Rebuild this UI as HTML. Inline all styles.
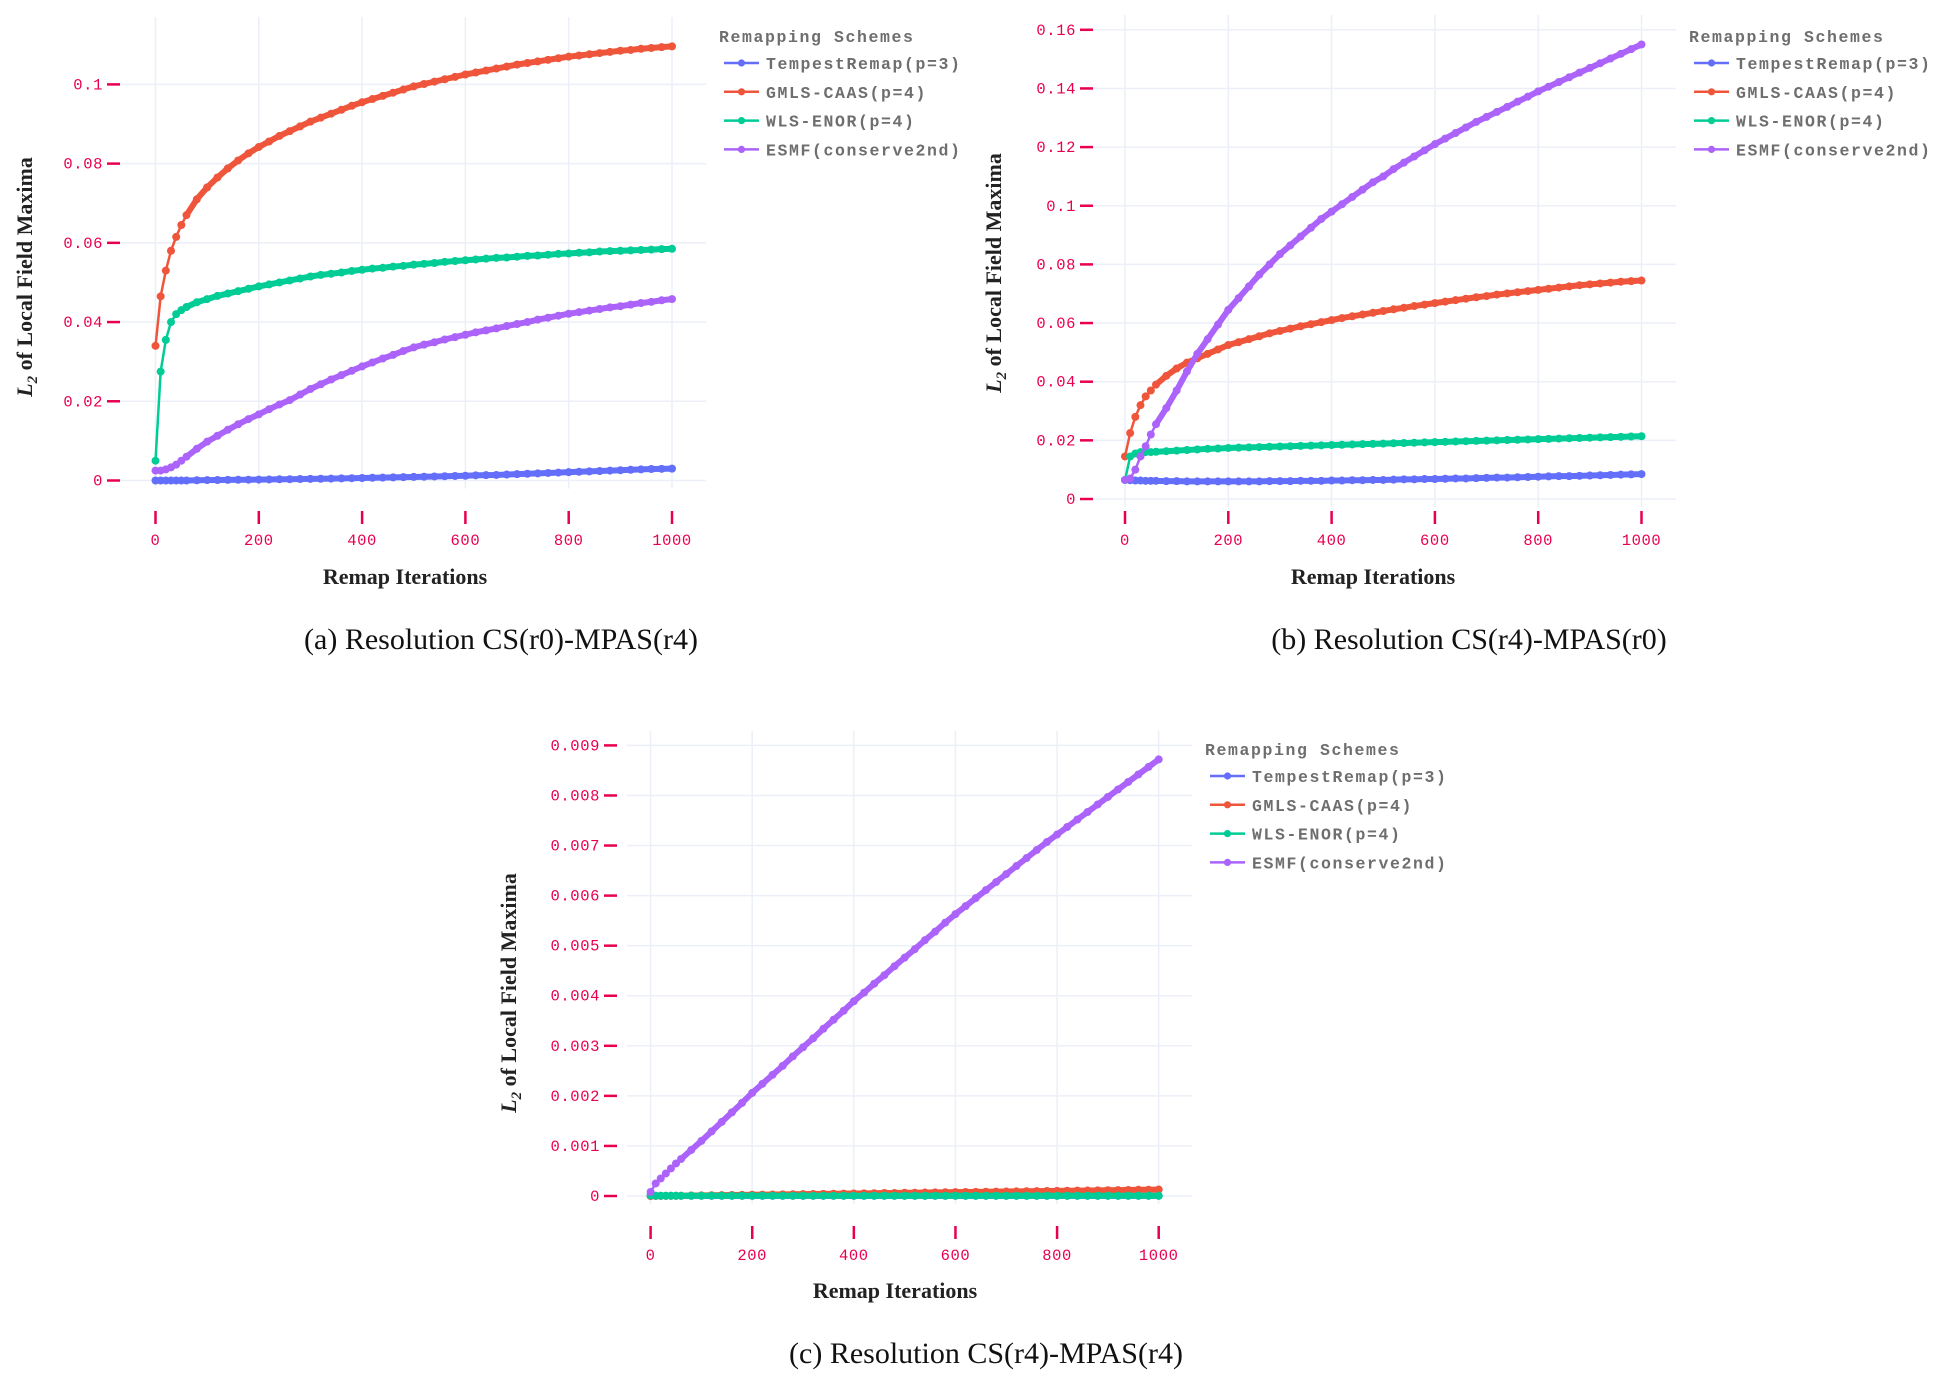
<!DOCTYPE html>
<html><head><meta charset="utf-8"><style>
html,body{margin:0;padding:0;background:#fff;}
svg{display:block;}
.tk{font-family:"Liberation Mono",monospace;font-size:15.5px;fill:#e8004f;letter-spacing:0.6px;}
.lg{font-family:"Liberation Mono",monospace;font-size:16.5px;font-weight:bold;fill:#6e6e6e;letter-spacing:1.6px;}
.ax{font-family:"Liberation Serif",serif;font-weight:bold;font-size:22px;fill:#222;}
.cap{font-family:"Liberation Serif",serif;font-size:30px;fill:#111;}
</style></head><body>
<svg id="fig" width="1947" height="1385" viewBox="0 0 1947 1385" xmlns="http://www.w3.org/2000/svg"></svg>
<script>
const iters = [0,10,20,30,40,50,60,80,100,120,140,160,180,200,220,240,260,280,300,320,340,360,380,400,420,440,460,480,500,520,540,560,580,600,620,640,660,680,700,720,740,760,780,800,820,840,860,880,900,920,940,960,980,1000];
const seriesNames = ["TempestRemap(p=3)","GMLS-CAAS(p=4)","WLS-ENOR(p=4)","ESMF(conserve2nd)"];
const xTicks = [0,200,400,600,800,1000];
const yTicksA = [0,0.02,0.04,0.06,0.08,0.1];
const yTicksB = [0,0.02,0.04,0.06,0.08,0.1,0.12,0.14,0.16];
const yTicksC = [0,0.001,0.002,0.003,0.004,0.005,0.006,0.007,0.008,0.009];
const yTickLabelsA = ["0","0.02","0.04","0.06","0.08","0.1"];
const yTickLabelsB = ["0","0.02","0.04","0.06","0.08","0.1","0.12","0.14","0.16"];
const yTickLabelsC = ["0","0.001","0.002","0.003","0.004","0.005","0.006","0.007","0.008","0.009"];

const tempestA = [0,0,0,0,0,0,0,0.00005,0.0001,0.00012,0.00015,0.00018,0.0002,0.00023,0.00026,0.0003,0.00033,0.00037,0.0004,0.00044,0.00048,0.00053,0.00058,0.00063,0.00068,0.00073,0.00079,0.00085,0.0009,0.00096,0.00102,0.00108,0.00115,0.0012,0.0013,0.00135,0.0014,0.0015,0.0016,0.0017,0.0018,0.0019,0.002,0.0021,0.0022,0.0023,0.0024,0.0025,0.0026,0.0027,0.0028,0.0029,0.00295,0.003];
const gmlsA = [0.034,0.0465,0.053,0.058,0.0615,0.0645,0.067,0.071,0.074,0.0765,0.0788,0.0808,0.0826,0.0842,0.0856,0.087,0.0882,0.0894,0.0906,0.0916,0.0926,0.0936,0.0946,0.0955,0.0963,0.0971,0.0979,0.0987,0.0995,0.1001,0.1007,0.1013,0.1019,0.1025,0.103,0.1035,0.104,0.1045,0.105,0.1054,0.1058,0.1062,0.1066,0.107,0.1073,0.1076,0.1079,0.1082,0.1085,0.1087,0.109,0.1092,0.1094,0.1096];
const wlsA = [0.005,0.0275,0.0355,0.04,0.042,0.043,0.0438,0.045,0.0458,0.0466,0.0472,0.0478,0.0484,0.049,0.0495,0.05,0.0505,0.051,0.0515,0.0519,0.0522,0.0525,0.0529,0.0532,0.0535,0.0537,0.054,0.0542,0.0545,0.0547,0.0549,0.0552,0.0554,0.0556,0.0558,0.056,0.0562,0.0563,0.0565,0.0567,0.0568,0.057,0.0572,0.0573,0.0575,0.0576,0.0578,0.0579,0.058,0.0581,0.0582,0.0583,0.0584,0.0585];
const esmfA = [0.0025,0.0025,0.0028,0.0033,0.004,0.005,0.006,0.008,0.0098,0.0113,0.0128,0.0142,0.0155,0.0167,0.018,0.0192,0.0203,0.0217,0.0231,0.0243,0.0255,0.0266,0.0277,0.0288,0.0298,0.0308,0.0317,0.0327,0.0336,0.0343,0.0349,0.0356,0.0362,0.0368,0.0374,0.0379,0.0384,0.039,0.0395,0.04,0.0406,0.0411,0.0416,0.0421,0.0425,0.0429,0.0433,0.0437,0.044,0.0444,0.0448,0.0451,0.0455,0.0458];

const tempestB = [0.0065,0.0064,0.0063,0.0063,0.0062,0.0062,0.0062,0.0061,0.0061,0.006,0.006,0.006,0.006,0.006,0.006,0.006,0.006,0.0061,0.0061,0.0061,0.0062,0.0062,0.0062,0.0063,0.0063,0.0064,0.0064,0.0065,0.0065,0.0066,0.0067,0.0067,0.0068,0.0068,0.0069,0.007,0.007,0.0071,0.0072,0.0073,0.0073,0.0074,0.0075,0.0076,0.0077,0.0078,0.0078,0.0079,0.008,0.0081,0.0082,0.0083,0.0084,0.0085];
const gmlsB = [0.0145,0.0225,0.028,0.032,0.035,0.037,0.039,0.042,0.0445,0.0465,0.048,0.0495,0.051,0.0525,0.0535,0.0545,0.0555,0.0565,0.0573,0.0581,0.0589,0.0596,0.0603,0.061,0.0617,0.0623,0.0629,0.0635,0.0641,0.0647,0.0652,0.0658,0.0663,0.0668,0.0673,0.0678,0.0683,0.0688,0.0692,0.0697,0.0701,0.0705,0.0709,0.0713,0.0717,0.0721,0.0725,0.0729,0.0732,0.0735,0.0738,0.0741,0.0743,0.0745];
const wlsB = [0.0065,0.0145,0.0155,0.016,0.016,0.016,0.0161,0.0163,0.0165,0.0167,0.0169,0.0171,0.0172,0.0174,0.0175,0.0176,0.0177,0.0178,0.0179,0.018,0.0181,0.0182,0.0183,0.0184,0.0185,0.0186,0.0187,0.0188,0.0189,0.019,0.0191,0.0192,0.0193,0.0194,0.0195,0.0196,0.0197,0.0198,0.0199,0.02,0.0201,0.0202,0.0203,0.0204,0.0205,0.0206,0.0207,0.0208,0.0209,0.021,0.0211,0.0212,0.0213,0.0214];
const esmfB = [0.0065,0.007,0.01,0.0145,0.018,0.022,0.0255,0.031,0.037,0.0435,0.0495,0.0545,0.0595,0.0645,0.0685,0.0725,0.0765,0.08,0.0835,0.0865,0.0895,0.0925,0.0955,0.098,0.1005,0.103,0.1055,0.108,0.11,0.1125,0.1147,0.1168,0.1189,0.121,0.1229,0.1248,0.1267,0.1286,0.1303,0.132,0.1337,0.1355,0.1372,0.139,0.1406,0.1422,0.1438,0.1454,0.147,0.1486,0.1502,0.1518,0.1534,0.155];

const tempestC = [0.000003,0.000003,0.000003,0.000003,0.000003,0.000003,0.000003,0.000003,0.000003,0.000003,0.000003,0.000003,0.000003,0.000003,0.000003,0.000003,0.000003,0.000003,0.000003,0.000003,0.000003,0.000003,0.000003,0.000003,0.000003,0.000003,0.000003,0.000003,0.000003,0.000003,0.000003,0.000003,0.000003,0.000003,0.000003,0.000003,0.000003,0.000003,0.000003,0.000003,0.000003,0.000003,0.000003,0.000003,0.000003,0.000003,0.000003,0.000003,0.000003,0.000003,0.000003,0.000003,0.000003,0.000003];
const gmlsC = [0,0.000001,0.000002,0.000003,0.000004,0.000005,0.000006,0.000009,0.000012,0.000014,0.000017,0.00002,0.000022,0.000025,0.000027,0.00003,0.000033,0.000035,0.000038,0.00004,0.000043,0.000046,0.000048,0.000051,0.000053,0.000056,0.000059,0.000061,0.000064,0.000066,0.000069,0.000072,0.000074,0.000077,0.000079,0.000082,0.000085,0.000087,0.00009,0.000092,0.000095,0.000098,0.0001,0.000103,0.000105,0.000108,0.000111,0.000113,0.000116,0.000118,0.000121,0.000124,0.000126,0.000129];
const wlsC = [0.00001,0.000005,0.000005,0.000005,0.000005,0.000005,0.000005,0.000005,0.000005,0.000005,0.000005,0.000005,0.000005,0.000005,0.000005,0.000005,0.000005,0.000005,0.000005,0.000005,0.000005,0.000005,0.000005,0.000005,0.000005,0.000005,0.000005,0.000005,0.000005,0.000005,0.000005,0.000005,0.000005,0.000005,0.000005,0.000005,0.000005,0.000005,0.000005,0.000005,0.000005,0.000005,0.000005,0.000005,0.000005,0.000005,0.000005,0.000005,0.000005,0.000005,0.000005,0.000005,0.000005,0.000005];
const esmfC = [0.00008,0.00025,0.00035,0.00045,0.00055,0.00065,0.00074,0.00092,0.0011,0.00129,0.00148,0.00167,0.00186,0.00206,0.00224,0.00242,0.0026,0.00279,0.00297,0.00315,0.00334,0.00352,0.0037,0.00389,0.00406,0.00424,0.00441,0.00459,0.00476,0.00493,0.00511,0.00528,0.00546,0.00563,0.00579,0.00595,0.00611,0.00627,0.00643,0.00659,0.00675,0.00691,0.00707,0.00722,0.00737,0.00752,0.00767,0.00782,0.00797,0.00812,0.00827,0.00842,0.00857,0.00872];

const NS = "http://www.w3.org/2000/svg";
const svg = document.getElementById('fig');
const colors = ["#636efa","#ef553b","#00cc96","#ab63fa"];
function mk(tag, attrs, parent, text){
  const e = document.createElementNS(NS, tag);
  for (const k in attrs) e.setAttribute(k, attrs[k]);
  if (text !== undefined) e.textContent = text;
  parent.appendChild(e);
  return e;
}

function panel(p){
  const g = mk('g', {}, svg);
  
  
  const ymax = p.yTicks[p.yTicks.length-1];
  const xs = v => p.x0 + (p.x1 - p.x0) * v / 1000;
  const ys = v => p.y0 - (p.y0 - p.yTop) * v / ymax;
  for (const t of p.yTicks){
    const l = mk('line', {x1:p.gl, x2:p.gr, y1:ys(t), y2:ys(t), stroke:'#eceff7', 'stroke-width':1.5}, g);
    
    
  }
  for (const t of xTicks){
    const l = mk('line', {x1:xs(t), x2:xs(t), y1:p.gt, y2:p.y0+8, stroke:'#eceff7', 'stroke-width':1.5}, g);
    
    
  }
  p.yTicks.forEach((t,i)=>{
    const m = mk('line', {x1:p.ytx, x2:p.ytx+13, y1:ys(t), y2:ys(t), stroke:'#e8004f', 'stroke-width':2.5}, g);
    
    
    const tx = mk('text', {x:p.ytx-4, y:ys(t)+5, 'text-anchor':'end', class:'tk'}, g, p.yLabels[i]);
    
    
  });
  for (const t of xTicks){
    const m = mk('line', {x1:xs(t), x2:xs(t), y1:p.xty, y2:p.xty+13, stroke:'#e8004f', 'stroke-width':2.5}, g);
    
    
    const tx = mk('text', {x:xs(t), y:p.xty+34, 'text-anchor':'middle', class:'tk'}, g, String(t));
    
    
  }
  p.series.forEach((vals, si)=>{
    const sg = mk('g', {}, g);
    
    
    const d = vals.map((v,i)=>(i?'L':'M')+xs(iters[i]).toFixed(2)+' '+ys(v).toFixed(2)).join(' ');
    const pl = mk('path', {d:d, fill:'none', stroke:colors[si], 'stroke-width':2.5}, sg);
    
    
    const band = vals.slice(6).map((v,i)=>(i?'L':'M')+xs(iters[i+6]).toFixed(2)+' '+ys(v).toFixed(2)).join(' ');
    const bl = mk('path', {d:band, fill:'none', stroke:colors[si], 'stroke-width':6, 'stroke-linejoin':'round'}, sg);
    
    
    vals.forEach((v,i)=>{
      const c = mk('circle', {cx:xs(iters[i]), cy:ys(v), r:4, fill:colors[si]}, sg);
      
      
    });
  });
  const xt = mk('text', {x:p.xtx, y:p.xtY, 'text-anchor':'middle', class:'ax'}, g, 'Remap Iterations');
  
  
  const yt = mk('text', {x:0, y:0, 'text-anchor':'middle', class:'ax', transform:`translate(${p.ytX},${p.ytY}) rotate(-90)`}, g);
  
  
  mk('tspan', {'font-style':'italic'}, yt, 'L');
  mk('tspan', {'font-size':'15', 'font-style':'italic', dy:'5'}, yt, '2');
  mk('tspan', {dy:'-5'}, yt, ' of Local Field Maxima');
  const lg = mk('g', {}, g);
  
  
  const lt = mk('text', {x:p.lx, y:p.ly+6, class:'lg'}, lg, 'Remapping Schemes');
  
  
  seriesNames.forEach((n,i)=>{
    const yy = p.ly + 27 + i*28.8;
    const eg = mk('g', {}, lg);
    
    
    mk('line', {x1:p.lx+5, x2:p.lx+40, y1:yy, y2:yy, stroke:colors[i], 'stroke-width':2.5}, eg);
    mk('circle', {cx:p.lx+22.5, cy:yy, r:3.6, fill:colors[i]}, eg);
    mk('text', {x:p.lx+47, y:yy+6, class:'lg'}, eg, n);
  });
  const cp = mk('text', {x:p.cx, y:p.cy, 'text-anchor':'middle', class:'cap'}, g, p.caption);
  
  
}

panel({name:'chart-a', x0:155.5, x1:672, y0:480.5, yTop:84.4, yTicks:yTicksA, yLabels:yTickLabelsA,
  gl:119, gr:706, gt:17, ytx:107, xty:511, xtx:405, xtY:584, ytX:32, ytY:277,
  series:[tempestA,gmlsA,wlsA,esmfA], lx:719, ly:36, cx:501, cy:649, caption:'(a) Resolution CS(r0)-MPAS(r4)'});
panel({name:'chart-b', x0:1125, x1:1641.5, y0:499, yTop:29.8, yTicks:yTicksB, yLabels:yTickLabelsB,
  gl:1093, gr:1676, gt:15, ytx:1080, xty:511, xtx:1373, xtY:584, ytX:1001, ytY:273,
  series:[tempestB,gmlsB,wlsB,esmfB], lx:1689, ly:36, cx:1469, cy:649, caption:'(b) Resolution CS(r4)-MPAS(r0)'});
panel({name:'chart-c', x0:650.6, x1:1158.7, y0:1196, yTop:745.4, yTicks:yTicksC, yLabels:yTickLabelsC,
  gl:627, gr:1192, gt:731, ytx:604, xty:1226, xtx:895, xtY:1298, ytX:516, ytY:993,
  series:[tempestC,gmlsC,wlsC,esmfC], lx:1205, ly:749, cx:986, cy:1363, caption:'(c) Resolution CS(r4)-MPAS(r4)'});
</script>
</body></html>
